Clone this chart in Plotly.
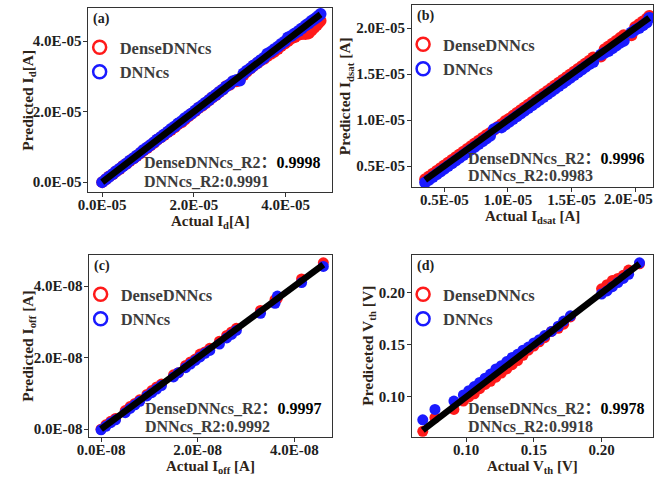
import plotly.graph_objects as go

W, H = 655, 479

# ---------------- data ----------------
# (a) Id, units 1e-5 A
id_actual = [0.0, 0.08, 0.15, 0.23, 0.3, 0.38, 0.45, 0.53, 0.6, 0.68, 0.75, 0.83, 0.9, 0.98, 1.05, 1.13, 1.2,
             1.28, 1.35, 1.43, 1.5, 1.58, 1.65, 1.73, 1.8, 1.88, 1.95, 2.03, 2.1, 2.18, 2.25, 2.33, 2.4, 2.48,
             2.55, 2.63, 2.7, 2.78, 2.85, 2.93, 3.0, 3.08, 3.15, 3.23, 3.3, 3.38, 3.45, 3.53, 3.6, 3.68, 3.75,
             3.83, 3.9, 3.98, 4.05, 4.13, 4.2, 4.28, 4.35, 4.43, 4.5, 4.56, 4.62, 4.68, 4.72, 4.76]
id_dense = [0.0, 0.08, 0.16, 0.22, 0.3, 0.37, 0.46, 0.52, 0.6, 0.67, 0.74, 0.82, 0.9, 0.97, 1.04, 1.12, 1.2,
            1.27, 1.34, 1.42, 1.48, 1.56, 1.64, 1.7, 1.78, 1.87, 1.94, 2.02, 2.1, 2.17, 2.24, 2.32, 2.4, 2.47,
            2.55, 2.63, 2.72, 2.76, 2.85, 2.86, 2.92, 3.04, 3.13, 3.22, 3.3, 3.37, 3.44, 3.5, 3.58, 3.64, 3.7,
            3.78, 3.86, 3.93, 4.0, 4.08, 4.12, 4.18, 4.2, 4.2, 4.22, 4.3, 4.38, 4.46, 4.52, 4.58]
id_dnn = [0.0, 0.08, 0.15, 0.23, 0.31, 0.38, 0.45, 0.53, 0.61, 0.68, 0.75, 0.83, 0.91, 0.98, 1.05, 1.13, 1.21,
          1.28, 1.35, 1.43, 1.51, 1.58, 1.66, 1.73, 1.81, 1.88, 1.95, 2.03, 2.11, 2.18, 2.25, 2.33, 2.41, 2.48,
          2.56, 2.63, 2.71, 2.78, 2.86, 2.9, 2.88, 3.08, 3.16, 3.23, 3.31, 3.38, 3.46, 3.53, 3.64, 3.7, 3.77,
          3.84, 3.92, 3.99, 4.1, 4.15, 4.22, 4.29, 4.36, 4.44, 4.5, 4.57, 4.62, 4.68, 4.72, 4.77]

# (b) Idsat, units 1e-5 A
idsat_actual = [0.35, 0.38, 0.41, 0.44, 0.47, 0.5, 0.53, 0.56, 0.59, 0.62, 0.65, 0.68, 0.71, 0.74, 0.77, 0.8,
                0.83, 0.86, 0.89, 0.92, 0.95, 0.98, 1.01, 1.04, 1.07, 1.1, 1.13, 1.16, 1.19, 1.22, 1.25, 1.28,
                1.31, 1.34, 1.37, 1.4, 1.43, 1.46, 1.49, 1.52, 1.55, 1.58, 1.61, 1.64, 1.67, 1.73, 1.76, 1.79,
                1.82, 1.85, 1.88, 1.91, 1.97, 2.0, 2.03, 2.06, 2.09, 2.11]
idsat_dense = [0.355, 0.385, 0.415, 0.445, 0.475, 0.505, 0.535, 0.565, 0.595, 0.625, 0.655, 0.685, 0.715,
               0.745, 0.775, 0.805, 0.835, 0.86, 0.895, 0.925, 0.955, 0.99, 1.015, 1.045, 1.075, 1.105, 1.135,
               1.165, 1.195, 1.225, 1.255, 1.285, 1.315, 1.345, 1.375, 1.405, 1.435, 1.465, 1.495, 1.525,
               1.555, 1.585, 1.615, 1.645, 1.68, 1.69, 1.77, 1.8, 1.83, 1.86, 1.89, 1.92, 1.92, 2.01, 2.04,
               2.07, 2.1, 2.13]
idsat_dnn = [0.32, 0.35, 0.38, 0.41, 0.44, 0.47, 0.5, 0.53, 0.56, 0.59, 0.62, 0.65, 0.68, 0.71, 0.74, 0.77,
             0.8, 0.83, 0.9, 0.92, 0.92, 0.95, 0.98, 1.01, 1.04, 1.07, 1.1, 1.13, 1.16, 1.19, 1.22, 1.25,
             1.28, 1.31, 1.34, 1.37, 1.4, 1.43, 1.46, 1.49, 1.52, 1.55, 1.58, 1.61, 1.63, 1.71, 1.73, 1.75,
             1.78, 1.81, 1.84, 1.86, 1.95, 1.98, 2.0, 2.03, 2.06, 2.11]

# (c) Ioff, units 1e-8 A
ioff_actual = [0.0, 0.1, 0.2, 0.3, 0.5, 0.6, 0.7, 0.8, 0.95, 1.05, 1.15, 1.25, 1.5, 1.6, 1.75, 1.85, 1.95,
               2.05, 2.15, 2.25, 2.45, 2.6, 2.7, 2.8, 3.3, 3.6, 3.65, 4.15, 4.6]
ioff_dense = [0.0, 0.12, 0.22, 0.3, 0.52, 0.63, 0.72, 0.82, 0.97, 1.08, 1.18, 1.26, 1.52, 1.58, 1.78, 1.88, 1.96,
              2.1, 2.16, 2.26, 2.46, 2.62, 2.72, 2.82, 3.32, 3.62, 3.66, 4.2, 4.65]
ioff_dnn = [-0.02, 0.08, 0.18, 0.26, 0.46, 0.58, 0.68, 0.78, 0.93, 1.02, 1.12, 1.22, 1.46, 1.58, 1.72, 1.82, 1.92,
            2.02, 2.12, 2.2, 2.38, 2.55, 2.65, 2.76, 3.24, 3.52, 3.72, 4.1, 4.55]

# (d) Vth, V
vth_actual = [0.068, 0.077, 0.091, 0.098, 0.102, 0.106, 0.110, 0.114, 0.118, 0.122, 0.126, 0.130, 0.134, 0.138,
              0.142, 0.146, 0.150, 0.154, 0.158, 0.163, 0.168, 0.172, 0.177, 0.200, 0.204, 0.208, 0.212, 0.216,
              0.220, 0.228]
vth_dense = [0.067, 0.080, 0.088, 0.096, 0.100, 0.103, 0.108, 0.112, 0.115, 0.119, 0.123, 0.127, 0.131, 0.135,
             0.140, 0.145, 0.149, 0.153, 0.157, 0.163, 0.166, 0.170, 0.177, 0.204, 0.208, 0.212, 0.214, 0.217,
             0.222, 0.228]
vth_dnn = [0.078, 0.088, 0.096, 0.102, 0.106, 0.110, 0.114, 0.118, 0.122, 0.127, 0.130, 0.134, 0.138, 0.141,
           0.145, 0.148, 0.152, 0.155, 0.159, 0.163, 0.168, 0.173, 0.178, 0.199, 0.202, 0.206, 0.210, 0.214,
           0.218, 0.229]

series_names = ["DenseDNNcs", "DNNcs"]
r2_dense = ["0.9998", "0.9996", "0.9997", "0.9978"]
r2_dnn = ["0.9991", "0.9983", "0.9992", "0.9918"]
panel_labels = ["(a)", "(b)", "(c)", "(d)"]

a_ticks = [0.0, 2.0, 4.0]
a_ticktext = ["0.0E-05", "2.0E-05", "4.0E-05"]
b_ticks = [0.5, 1.0, 1.5, 2.0]
b_ticktext = ["0.5E-05", "1.0E-05", "1.5E-05", "2.0E-05"]
c_ticks = [0.0, 2.0, 4.0]
c_ticktext = ["0.0E-08", "2.0E-08", "4.0E-08"]
d_ticks = [0.10, 0.15, 0.20]
d_ticktext = ["0.10", "0.15", "0.20"]

x_titles = ["Actual I<sub>d</sub>[A]", "Actual I<sub>dsat</sub> [A]", "Actual I<sub>off</sub> [A]",
            "Actual V<sub>th</sub> [V]"]
y_titles = ["Predicted I<sub>d</sub>[A]", "Predicted I<sub>dsat</sub> [A]", "Predicted I<sub>off</sub> [A]",
            "Prediceted V<sub>th</sub> [V]"]

# ---------------- layout geometry (pixels) ----------------
boxes = [(77, 325, 8, 192), (407, 653, 5, 187), (78, 325, 255, 437), (407, 653, 255, 437)]
xranges = [(-0.3, 5.0), (0.246, 2.14), (-0.24, 4.77), (0.060, 0.238)]
yranges = [(-0.28, 4.94), (0.272, 2.25), (-0.22, 4.87), (0.0615, 0.2365)]
ytitle_off = [62, 67, 63, 45]
marker_sizes = [12, 12, 11, 11]

FONT = "Liberation Serif, Noto Sans CJK SC, serif"
RED = "#ff1a1a"
BLUE = "#1a1aff"
TXT = "#3c3c3c"
TITLE_C = "#2e2418"
TICK_C = "#1e1e1e"

def px2x(p):
    return p / W

def px2y(p):
    return 1 - p / H

panels = [
    (id_actual, id_dense, id_dnn, a_ticks, a_ticktext),
    (idsat_actual, idsat_dense, idsat_dnn, b_ticks, b_ticktext),
    (ioff_actual, ioff_dense, ioff_dnn, c_ticks, c_ticktext),
    (vth_actual, vth_dense, vth_dnn, d_ticks, d_ticktext),
]

fig = go.Figure()
layout = dict(
    width=W, height=H, margin=dict(l=0, r=0, t=0, b=0),
    paper_bgcolor="white", plot_bgcolor="white",
    font=dict(family=FONT, color=TXT),
)
annotations = []

for i, (act, dense, dnn, tv, tt) in enumerate(panels):
    n = "" if i == 0 else str(i + 1)
    xa, ya = "x" + n, "y" + n
    leg = "legend" + n
    ms = marker_sizes[i]
    fig.add_trace(go.Scatter(x=act, y=dense, mode="markers", xaxis=xa, yaxis=ya, showlegend=False,
                             marker=dict(color=RED, size=ms, line=dict(width=0))))
    fig.add_trace(go.Scatter(x=act, y=dnn, mode="markers", xaxis=xa, yaxis=ya, showlegend=False,
                             marker=dict(color=BLUE, size=ms, line=dict(width=0))))
    lo, hi = min(act), max(act)
    fig.add_trace(go.Scatter(x=[lo, hi], y=[lo, hi], mode="lines", xaxis=xa, yaxis=ya, showlegend=False,
                             line=dict(color="black", width=6.5)))
    # legend entries
    for nm, col in zip(series_names, [RED, BLUE]):
        fig.add_trace(go.Scatter(x=[None], y=[None], mode="markers", xaxis=xa, yaxis=ya, legend=leg,
                                 name="<b>" + nm + "</b>",
                                 marker=dict(symbol="circle-open", color=col, size=13, line=dict(width=2.5, color=col))))
    l, r, t, b = boxes[i]
    axcommon = dict(showgrid=False, zeroline=False, showline=True, mirror=True, linecolor="#333333",
                    linewidth=1, ticks="outside", ticklen=4, tickcolor="#333333",
                    tickfont=dict(family=FONT, size=15, color=TICK_C))
    xt = ["<b>" + s + "</b>" for s in tt]
    if i == 1:
        # the last x label of panel (b) touches the page edge: drawn as an annotation instead
        edge_label = xt[-1]
        xt = xt[:-1] + [""]
        annotations.append(dict(xref="paper", yref="paper", x=1.0, y=px2y(b + 12), xanchor="right",
                                yanchor="middle", showarrow=False, text=edge_label,
                                font=dict(family=FONT, size=15, color=TICK_C)))
    layout["xaxis" + n] = dict(domain=[px2x(l), px2x(r)], range=list(xranges[i]), anchor=ya,
                               tickvals=tv, ticktext=xt, ticklabelstandoff=-5, **axcommon)
    layout["yaxis" + n] = dict(domain=[px2y(b), px2y(t)], range=list(yranges[i]), anchor=xa,
                               tickvals=tv, ticktext=["<b>" + s + "</b>" for s in tt],
                               ticklabelstandoff=-1, **axcommon)
    layout[leg] = dict(x=px2x(l - 9), y=px2y(t + 22), xanchor="left", yanchor="top",
                       bgcolor="rgba(0,0,0,0)", font=dict(family=FONT, size=16.5, color=TXT),
                       itemwidth=30, tracegroupgap=0)
    # panel label
    annotations.append(dict(xref="paper", yref="paper", x=px2x(l + 3), y=px2y(t + 11), xanchor="left",
                            yanchor="middle", showarrow=False, text="<b>" + panel_labels[i] + "</b>",
                            font=dict(family=FONT, size=14, color="#222222")))
    # R2 text
    annotations.append(dict(xref="paper", yref="paper", x=px2x(l + 55), y=px2y(b - 29), xanchor="left",
                            yanchor="middle", showarrow=False, align="left",
                            text="<b>DenseDNNcs_R2：</b><b><span style='color:#000000'>" + r2_dense[i] + "</span></b>",
                            font=dict(family=FONT, size=16, color=TXT)))
    annotations.append(dict(xref="paper", yref="paper", x=px2x(l + 55), y=px2y(b - 11), xanchor="left",
                            yanchor="middle", showarrow=False,
                            text="<b>DNNcs_R2:" + r2_dnn[i] + "</b>",
                            font=dict(family=FONT, size=16, color=TXT)))
    # axis titles
    annotations.append(dict(xref="paper", yref="paper", x=px2x((l + r) / 2), y=px2y(b + 30), xanchor="center",
                            yanchor="middle", showarrow=False, text="<b>" + x_titles[i] + "</b>",
                            font=dict(family=FONT, size=15, color=TITLE_C)))
    annotations.append(dict(xref="paper", yref="paper", x=px2x(l - ytitle_off[i]), y=px2y((t + b) / 2),
                            xanchor="center", yanchor="middle", showarrow=False, textangle=-90,
                            text="<b>" + y_titles[i] + "</b>",
                            font=dict(family=FONT, size=15.5, color=TITLE_C)))

layout["annotations"] = annotations
fig.update_layout(**layout)
fig.write_html("out.html")
